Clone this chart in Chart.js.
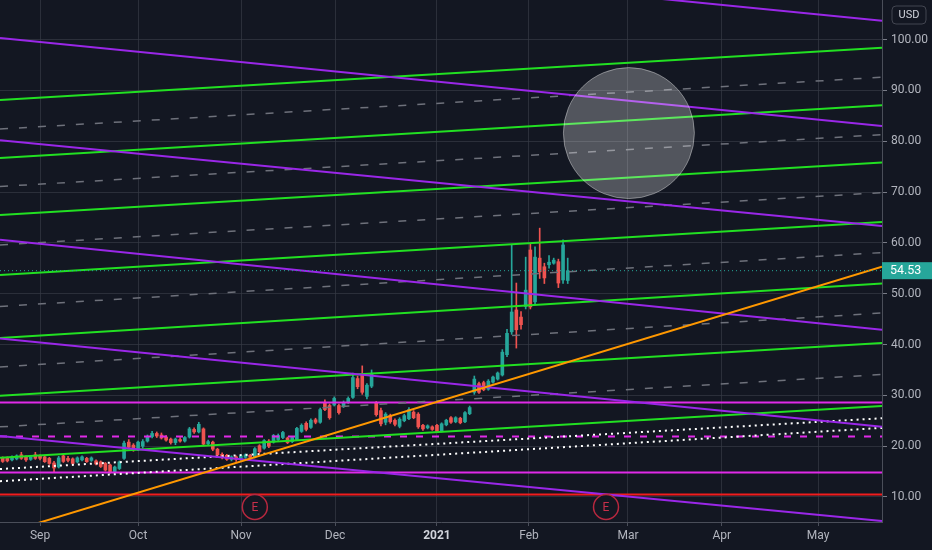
<!DOCTYPE html>
<html>
<head>
<meta charset="utf-8">
<script src="https://cdn.jsdelivr.net/npm/chart.js@4.4.0/dist/chart.umd.min.js"></script>
<style>
  html, body { margin: 0; padding: 0; background: #131722; }
  #wrap { width: 932px; height: 550px; }
</style>
</head>
<body>
<div id="wrap"><canvas id="chart" width="932" height="550"></canvas></div>
<script>
// daily bars, index 0 = first trading day of September 2020
const firstBar = -8;
const opens = [17.7,17.6,17.3,17.5,18.3,17.9,17.4,18.3,
  18.1,17.9,17.6,16.7,15.9,18.1,17.6,17.5,16.9,17.3,17.6,17.2,17.1,16.9,16.6,16.3,15.0,15.6,
  17.6,20.8,20.2,19.3,20.0,21.0,21.9,22.5,22.2,21.8,21.4,20.7,21.3,21.0,21.8,23.3,22.8,23.4,20.5,20.8,19.4,18.4,18.2,17.4,17.9,
  17.4,17.8,18.2,17.9,20.1,19.6,21.0,20.8,21.3,21.7,21.6,20.9,21.3,22.9,24.5,23.7,25.2,24.7,28.6,28.0,
  28.1,28.0,27.8,28.6,29.6,33.3,34.0,29.8,31.8,28.6,27.0,24.7,26.0,25.1,23.9,25.0,25.4,26.7,26.3,24.1,23.6,23.8,
  24.1,23.0,24.2,25.6,24.8,25.5,24.8,26.4,30.6,32.3,32.5,31.2,32.6,33.2,34.0,38.0,42.5,46.8,45.4,
  47.5,58.6,48.4,57.0,55.3,55.7,56.0,56.3,52.7,52.6];
const highs = [17.9,17.9,18.1,18.3,18.8,18.1,18.1,18.8,
  18.3,18.1,17.8,17.0,18.0,18.5,18.0,17.7,17.9,18.1,17.8,17.9,17.3,17.1,16.8,16.5,16.1,17.1,
  21.0,21.3,20.5,21.0,21.3,22.2,22.9,22.8,22.6,22.1,21.6,21.6,21.7,21.9,23.7,23.6,24.7,23.6,21.2,21.0,19.6,18.7,18.4,18.1,18.1,
  18.3,18.5,18.4,19.7,20.3,21.3,21.3,22.3,22.4,22.9,21.8,21.9,23.7,24.4,24.8,25.4,25.5,27.5,29.1,28.3,
  29.7,28.3,28.9,29.7,34.4,33.8,35.8,32.3,35.0,28.8,27.5,26.6,26.3,25.4,25.6,26.3,27.6,27.0,26.6,24.3,24.2,24.0,
  24.3,24.6,25.3,25.8,25.8,25.7,26.8,27.9,33.8,32.6,32.8,33.1,33.8,34.6,39.0,43.0,59.6,52.1,46.5,
  57.2,59.8,59.2,62.9,56.0,57.5,57.0,56.8,60.6,57.0];
const lows = [16.8,16.9,17.1,17.3,17.4,17.0,17.2,17.4,
  17.3,16.8,16.4,14.9,15.7,16.8,16.9,16.4,16.7,17.1,16.8,17.0,16.3,15.8,15.1,14.7,14.8,15.4,
  17.4,19.5,19.0,19.1,19.6,20.8,21.6,21.7,21.4,21.0,20.4,20.3,20.8,20.8,21.6,22.5,22.6,20.1,20.2,19.1,18.0,17.5,17.2,17.1,17.0,
  17.2,17.6,17.5,17.7,18.7,19.4,19.7,20.6,21.1,21.5,20.5,20.7,21.1,22.7,23.0,23.5,24.4,24.5,27.0,25.3,
  27.9,26.3,27.6,28.4,29.4,31.3,30.2,29.3,31.5,25.9,24.0,24.2,24.5,24.0,23.6,24.8,25.2,25.4,23.5,23.1,23.4,23.1,
  22.7,22.8,24.0,24.5,24.6,24.4,24.6,26.2,30.2,30.4,30.9,31.0,32.4,33.0,33.8,37.6,42.0,39.3,43.0,
  47.0,47.0,48.0,53.0,52.0,55.0,55.8,51.2,52.0,52.0];
const closes = [17.0,17.1,17.9,18.1,17.6,17.3,17.9,17.6,
  17.6,16.95,16.6,15.7,17.7,17.0,17.2,16.6,17.7,17.9,16.95,17.7,16.5,16.0,15.3,15.0,15.9,16.9,
  20.6,19.8,19.3,20.8,20.9,21.9,22.5,22.0,21.6,21.2,20.7,21.4,21.0,21.7,23.4,22.8,24.3,20.4,20.9,19.4,18.3,17.8,17.4,17.9,17.4,
  18.1,18.3,17.8,19.5,18.9,21.1,20.0,22.1,22.1,22.7,20.7,21.7,23.5,24.1,23.3,25.1,24.7,27.2,27.2,25.6,
  29.4,26.6,28.6,29.4,33.5,31.7,30.6,32.0,34.2,26.2,24.4,26.3,24.8,24.3,25.3,26.0,27.2,25.6,23.8,23.4,24.0,23.3,
  22.9,24.4,25.1,24.7,25.6,24.6,26.6,27.6,33.2,30.6,31.1,32.8,33.6,34.4,38.5,42.2,46.4,42.9,43.9,
  50.7,47.4,57.2,54.3,53.1,56.2,56.6,52.1,59.6,54.53];
const lastPrice = 54.53;

const monthTicks = [0, 21, 43.04, 63.17, 85, 104.7, 125.9, 146, 166.6];
const monthLabels = ['Sep', 'Oct', 'Nov', 'Dec', '2021', 'Feb', 'Mar', 'Apr', 'May'];
const priceTicks = [10, 20, 30, 40, 50, 60, 70, 80, 90, 100];

// drawings: price at the left edge and at the right edge of the pane
const lineFrom = -8.57, lineTo = 180.3;
const greenStart = [88.1, 76.7, 65.5, 53.7, 41.3, 29.9, 17.7];
const greenEnd = [98.4, 87.1, 75.8, 64.1, 52.0, 40.3, 27.9];
const midStart = [82.4, 71.1, 59.6, 47.5, 35.6, 23.8];
const midEnd = [92.6, 81.3, 69.9, 58.1, 46.2, 34.1];
const purpleStart = [120.9, 100.3, 80.2, 60.6, 41.2, 22.0];
const purpleEnd = [103.7, 83.0, 63.3, 42.9, 23.8, 5.3];
const dottedStart = [15.5, 13.1];
const dottedEnd = [25.5, 23.6];
const orangeLine = [2.6, 55.3];
const magentaSolid = [28.6, 14.8];
const magentaDashed = [21.9];
const redLevels = [10.5];
const circleCenter = [126.1, 81.6];
const earningsBars = [46, 121.2];

const UP = '#26a69a', DOWN = '#ef5350';

function seg(p0, p1, color, width, dash) {
  return {
    type: 'line',
    data: [{x: lineFrom, y: p0}, {x: lineTo, y: p1}],
    borderColor: color,
    borderWidth: width,
    borderDash: dash || [],
    pointRadius: 0,
    tension: 0,
    fill: false
  };
}

const bodies = [], wicks = [], colors = [];
for (let k = 0; k < opens.length; k++) {
  const i = firstBar + k;
  bodies.push({x: i, y: [opens[k], closes[k]]});
  wicks.push({x: i, y: [lows[k], highs[k]]});
  colors.push(closes[k] >= opens[k] ? UP : DOWN);
}

const datasets = [];
datasets.push({
  type: 'scatter',
  data: [{x: circleCenter[0], y: circleCenter[1]}],
  pointRadius: 65.5,
  pointHoverRadius: 65.5,
  backgroundColor: 'rgba(255,255,255,0.27)',
  borderColor: 'rgba(255,255,255,0.38)',
  borderWidth: 1
});
datasets.push(seg(lastPrice, lastPrice, UP, 1, [1, 3]));
datasets.push(seg(orangeLine[0], orangeLine[1], '#ff9800', 2));
purpleStart.forEach((p, k) => datasets.push(seg(p, purpleEnd[k], '#9a27e8', 2)));
greenStart.forEach((p, k) => datasets.push(seg(p, greenEnd[k], '#22e022', 2)));
midStart.forEach((p, k) => datasets.push(seg(p, midEnd[k], '#6e717b', 1.5, [8, 11])));
dottedStart.forEach((p, k) => datasets.push(seg(p, dottedEnd[k], '#ffffff', 2, [2, 4])));
magentaSolid.forEach(p => datasets.push(seg(p, p, '#e02ae8', 2)));
magentaDashed.forEach(p => datasets.push(seg(p, p, '#e02ae8', 2, [7, 9])));
redLevels.forEach(p => datasets.push(seg(p, p, '#f21c1c', 2)));
datasets.push({
  type: 'bar', data: bodies, backgroundColor: colors,
  barThickness: 3, minBarLength: 1, grouped: false
});
datasets.push({
  type: 'bar', data: wicks, backgroundColor: colors,
  barThickness: 1, grouped: false
});

function isYear(ctx) {
  return !!(ctx && ctx.tick && monthTicks.indexOf(ctx.tick.value) === 4);
}

// keep the pane flush with the canvas edges
function noPad(a) {
  a.paddingTop = 0; a.paddingBottom = 0; a.paddingLeft = 0; a.paddingRight = 0;
}

const overlay = {
  id: 'overlay',
  afterDatasetsDraw(chart) {
    const {ctx, chartArea, scales} = chart;
    ctx.save();
    earningsBars.forEach(b => {
      const px = scales.x.getPixelForValue(b);
      const py = chartArea.bottom - 15;
      ctx.beginPath();
      ctx.arc(px, py, 12.5, 0, Math.PI * 2);
      ctx.fillStyle = '#131722';
      ctx.fill();
      ctx.lineWidth = 1.5;
      ctx.strokeStyle = '#b8283f';
      ctx.stroke();
      ctx.fillStyle = '#c8304a';
      ctx.font = '12px Roboto';
      ctx.textAlign = 'center';
      ctx.textBaseline = 'middle';
      ctx.fillText('E', px, py + 1);
    });
    ctx.restore();
  },
  afterDraw(chart) {
    const {ctx, chartArea, scales} = chart;
    ctx.save();
    const py = scales.y.getPixelForValue(lastPrice);
    ctx.fillStyle = UP;
    ctx.fillRect(chartArea.right, py - 8.5, 50, 17);
    ctx.fillStyle = '#ffffff';
    ctx.font = '12.5px Roboto';
    ctx.textAlign = 'left';
    ctx.textBaseline = 'middle';
    ctx.fillText(lastPrice.toFixed(2), chartArea.right + 8, py + 0.5);
    // currency box
    ctx.beginPath();
    ctx.roundRect(chartArea.right + 10, 6, 34, 18, 4);
    ctx.fillStyle = '#131722';
    ctx.fill();
    ctx.strokeStyle = '#434651';
    ctx.lineWidth = 1;
    ctx.stroke();
    ctx.fillStyle = '#d1d4dc';
    ctx.font = '11px Roboto';
    ctx.textAlign = 'center';
    ctx.fillText('USD', chartArea.right + 27, 15.5);
    ctx.restore();
  }
};

new Chart(document.getElementById('chart'), {
  type: 'bar',
  data: {datasets: datasets},
  options: {
    responsive: false,
    animation: false,
    events: [],
    layout: {padding: 0, autoPadding: false},
    plugins: {legend: {display: false}, tooltip: {enabled: false}},
    scales: {
      x: {
        type: 'linear',
        min: lineFrom,
        max: lineTo,
        offset: false,
        afterBuildTicks: a => { a.ticks = monthTicks.map(v => ({value: v})); },
        afterFit: a => { a.height = 28; noPad(a); },
        grid: {color: 'rgba(54,58,69,0.7)', offset: false, tickLength: 4, tickColor: '#4a4e59'},
        border: {color: '#4a4e59'},
        ticks: {
          autoSkip: false,
          maxRotation: 0,
          padding: 3,
          callback: (v, i) => monthLabels[i],
          color: ctx => isYear(ctx) ? '#d1d4dc' : '#b2b5be',
          font: ctx => ({family: 'Roboto', size: 12, weight: isYear(ctx) ? 'bold' : 'normal'})
        }
      },
      y: {
        type: 'linear',
        position: 'right',
        min: 5.08,
        max: 107.79,
        afterBuildTicks: a => { a.ticks = priceTicks.map(v => ({value: v})); },
        afterFit: a => { a.width = 50; noPad(a); },
        grid: {color: 'rgba(54,58,69,0.7)', tickLength: 5, tickColor: '#787b86'},
        border: {color: '#4a4e59'},
        ticks: {
          padding: 4,
          color: '#b2b5be',
          font: {family: 'Roboto', size: 12},
          callback: v => v.toFixed(2)
        }
      }
    }
  },
  plugins: [overlay]
});
</script>
</body>
</html>
